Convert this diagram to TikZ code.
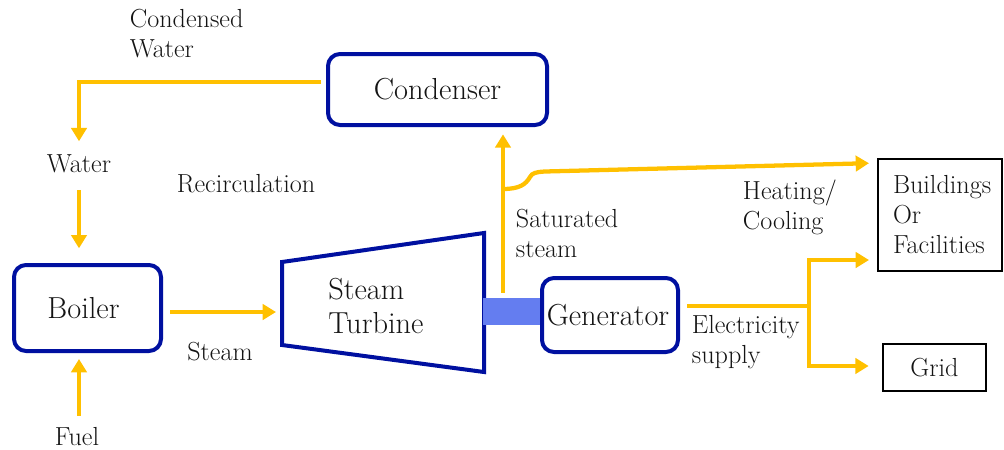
\documentclass[tikz,border=0pt]{standalone}
\usetikzlibrary{arrows.meta,calc}
\definecolor{flow}{RGB}{255,192,0}
\definecolor{dblue}{RGB}{0,16,160}
\definecolor{shaftc}{RGB}{100,125,240}
\definecolor{txt}{RGB}{20,20,20}
\begin{document}
\begin{tikzpicture}[x=0.75pt,y=-0.75pt,
  unit/.style={draw=dblue, line width=3pt, rounded corners=9pt, font=\fontsize{22.8}{25.5}\selectfont, text=txt, inner sep=0pt},
  sink/.style={draw=black, line width=1.5pt, font=\fontsize{19.6}{22.5}\selectfont, text=txt},
  lbl/.style={font=\fontsize{19.6}{22}\selectfont, text=txt, inner sep=2pt, align=left},
  flowline/.style={draw=flow, line width=3.2pt},
  arr/.style={flowline, -{Triangle[length=10pt,width=11.5pt]}}]
\useasboundingbox (0,0) rectangle (1004,450);

% units
\node[unit, minimum width=164.25pt, minimum height=53.25pt] (cond) at (437.5,89.5) {Condenser};
\node[unit, minimum width=110.25pt, minimum height=64.5pt] (boiler) at (87.5,308) {Boiler\hspace*{6pt}};
\draw[draw=dblue, line width=3pt, line join=miter]
  (282,262) coordinate (t1) -- (484,233) coordinate (t2) -- (484,372) coordinate (t3) -- (282,345) coordinate (t4) -- cycle;
\node[font=\fontsize{22.8}{25.5}\selectfont, text=txt, align=left, anchor=west, inner sep=0pt] (turb) at (328,306) {Steam\\Turbine};
\node[fill=shaftc, minimum width=43.5pt, minimum height=20.25pt, inner sep=0pt] (shaft) at (512,311.5) {};
\node[unit, minimum width=102pt, minimum height=55.5pt] (gen) at (610,315) {Generator\hspace*{3pt}};
\node[sink, text width=70.5pt, inner xsep=11.25pt, minimum height=84pt, align=left] (bld) at (940,215) {Buildings\\Or\\Facilities};
\node[sink, minimum width=77.25pt, minimum height=35.25pt] (grid) at (934.5,367.5) {Grid};

% labels
\node[lbl, anchor=west] (cw) at (127,33.5) {Condensed\\Water};
\node[lbl] (water) at (79,164) {Water};
\node[lbl] (recirc) at (246,184) {Recirculation};
\node[lbl] (steam) at (220,352) {Steam};
\node[lbl] (fuel) at (77,437) {Fuel};
\node[lbl, anchor=west] (sat) at (513,233.5) {Saturated\\steam};
\node[lbl, anchor=west] (heat) at (740,207.5) {Heating/\\Cooling};
\node[lbl, anchor=west] (elec) at (689,342) {Electricity\\supply};

% connectors
\coordinate (tin) at (276,312);
\coordinate (br) at (503,189);
\coordinate (ej) at (809,306);

\draw[arr, shorten >=8pt] ($(cond.west)+(-5,-7.5)$) -| (water.north);
\draw[arr, shorten <=10.5pt, shorten >=11pt] (water.south) -- (water.south |- boiler.north);
\draw[arr, shorten <=7pt, shorten >=4.5pt] ([xshift=1.5pt]fuel.north) -- ([xshift=1.5pt]fuel.north |- boiler.south);
\draw[arr] ($(boiler.east)+(7,4)$) -- (tin);
\draw[arr, shorten >=5.5pt] ([xshift=-6.75pt,yshift=3.75pt]shaft.north) -- ([xshift=-6.75pt]shaft.north |- cond.south);
\draw[arr, shorten >=6pt] (br) .. controls (520,189) and (526,184) .. (530,177)
   .. controls (532,173) and (536,172) .. (545,171.5) -- ($(bld.west)+(0,-52)$);
\draw[flowline] ($(gen.east)+(7,-9)$) -- (ej);
\draw[arr, shorten >=6pt] (ej) |- ($(bld.west)+(0,45)$);
\draw[arr, shorten >=10pt] (ej) |- ($(grid.west)+(0,-1.5)$);
\end{tikzpicture}
\end{document}
